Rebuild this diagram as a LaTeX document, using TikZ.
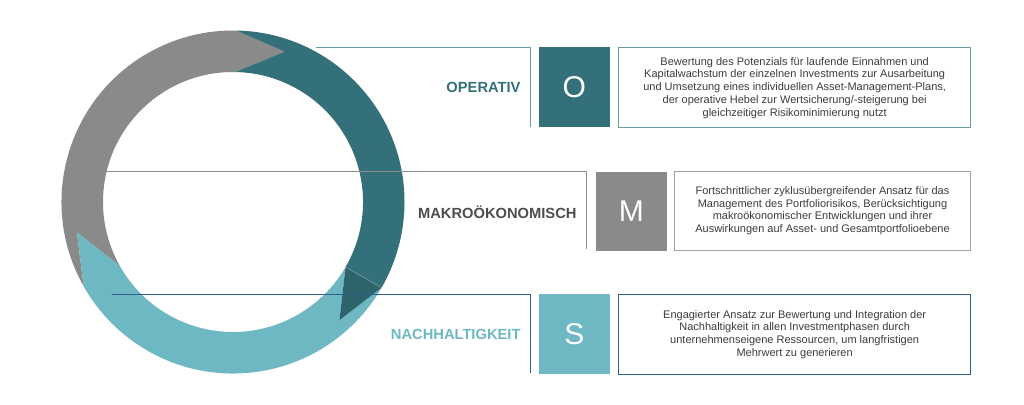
\documentclass[tikz,border=0pt]{standalone}
\usepackage{fontspec}
\setmainfont{Liberation Sans}
\definecolor{cteal}{HTML}{33707A}
\definecolor{ctealdark}{HTML}{2D636B}
\definecolor{cgray}{HTML}{8A8A8A}
\definecolor{cblue}{HTML}{6DB8C3}
\definecolor{lineteal}{HTML}{6A9CA4}
\definecolor{linegray}{HTML}{8C8C8C}
\definecolor{linenavy}{HTML}{2F5D8C}
\definecolor{desctext}{HTML}{3C3C3C}
\definecolor{labgray}{HTML}{4D4D4D}
\begin{document}
\begin{tikzpicture}[x=1pt,y=1pt,
  bracket/.style={line width=0.8pt},
  letterbox/.style={minimum width=71.7pt, minimum height=79.4pt, inner sep=0pt, text=white, font=\fontsize{30}{30}\selectfont, anchor=north west},
  descbox/.style={draw, line width=1pt, inner sep=0pt, minimum width=351.7pt, minimum height=80pt, anchor=north west, align=center, text=desctext, font=\fontsize{11}{12.7}\selectfont},
  catlabel/.style={anchor=east, font=\bfseries\fontsize{14.7}{16}\selectfont, inner sep=0pt}]
\useasboundingbox (0,0) rectangle (1024,404);
\fill[white] (0,0) rectangle (1024,404);
% ring
\begin{scope}[shift={(233,202)}]
\fill[cgray] (209.5:171.5) arc[start angle=209.5,end angle=89,radius=171.5] -- (71:159) -- (89:130) arc[start angle=89,end angle=209.5,radius=130] -- (191:159) -- cycle;
\fill[cteal] (89:171.5) arc[start angle=89,end angle=-30,radius=171.5] -- (-30:130) arc[start angle=-30,end angle=89,radius=130] -- (71:159) -- cycle;
\fill[cblue] (-30:171.5) arc[start angle=-30,end angle=-150.5,radius=171.5] -- (-169:159) -- (-150.5:130) arc[start angle=-150.5,end angle=-30,radius=130] -- (-48:159) -- cycle;
\fill[ctealdark] (-30:171.5) -- (-48:159) -- (-30:130) -- cycle;
\draw[cteal!60!white,line width=0.4pt] (-30:171.5) -- (-30:130);
\end{scope}
% bracket coordinates
\coordinate (tS) at (316,356.7);
\coordinate (tC) at (530,356.7);
\coordinate (tE) at (530,277.3);
\coordinate (mS) at (85,232.3);
\coordinate (mC) at (586.7,232.3);
\coordinate (mE) at (586.7,155);
\coordinate (bS) at (111.7,109.7);
\coordinate (bC) at (530,109.7);
\coordinate (bE) at (530,31);
\draw[bracket,lineteal] (tS) -- (tC) -- (tE);
\draw[bracket,linegray] (mS) -- (mC) -- (mE);
\draw[bracket,linenavy] (bS) -- (bC) -- (bE);
% letter boxes
\node[letterbox,fill=cteal] (O) at (538.3,356.7) {O};
\node[letterbox,fill=cgray] (M) at (595.3,232.3) {M};
\node[letterbox,fill=cblue] (S) at (538.3,110) {S};
% labels
\node[catlabel,text=cteal] (lo) at (520.7,317) {OPERATIV};
\node[catlabel,text=labgray] (lm) at (576.7,192) {MAKROÖKONOMISCH};
\node[catlabel,text=cblue] (ls) at (520.7,70) {NACHHALTIGKEIT};
% description boxes
\node[descbox,draw=lineteal] (dO) at (618.3,356.7) {Bewertung des Potenzials für laufende Einnahmen und\\Kapitalwachstum der einzelnen Investments zur Ausarbeitung\\und Umsetzung eines individuellen Asset-Management-Plans,\\der operative Hebel zur Wertsicherung/-steigerung bei\\gleichzeitiger Risikominimierung nutzt};
\node[descbox,draw=linegray!80,minimum width=296pt,minimum height=79pt] (dM) at (674,233.3) {Fortschrittlicher zyklusübergreifender Ansatz für das\\Management des Portfoliorisikos, Berücksichtigung\\makroökonomischer Entwicklungen und ihrer\\Auswirkungen auf Asset- und Gesamtportfolioebene};
\node[descbox,draw=linenavy] (dS) at (618.3,110) {Engagierter Ansatz zur Bewertung und Integration der\\Nachhaltigkeit in allen Investmentphasen durch\\unternehmenseigene Ressourcen, um langfristigen\\Mehrwert zu generieren};
\end{tikzpicture}
\end{document}
